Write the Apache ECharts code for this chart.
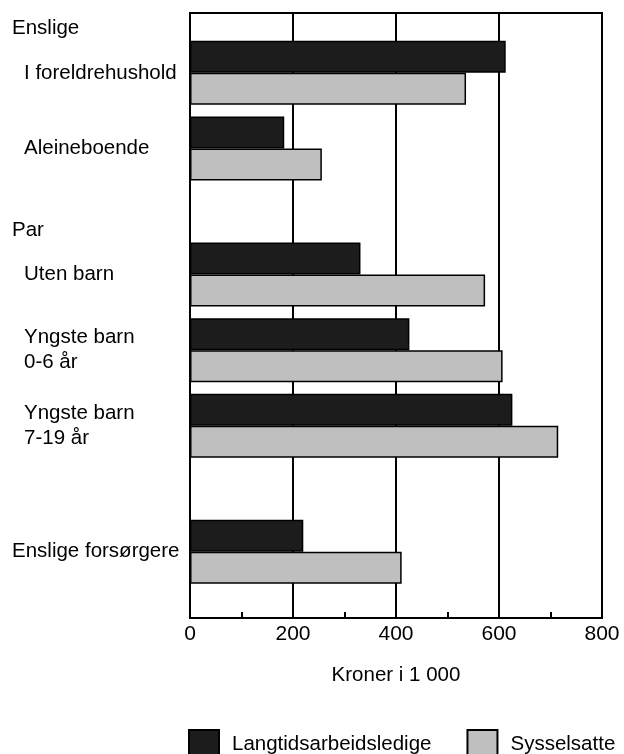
<!DOCTYPE html>
<html>
<head>
<meta charset="utf-8">
<script src="https://cdn.jsdelivr.net/npm/echarts@6/dist/echarts.min.js"></script>
<style>
  html, body { margin: 0; padding: 0; background: #fff; }
  #chart { width: 624px; height: 754px; }
</style>
</head>
<body>
<div id="chart"></div>
<script>
// data
const groupLabels = ['I foreldrehushold', 'Aleineboende', 'Uten barn', 'Yngste barn\n0-6 år', 'Yngste barn\n7-19 år', 'Enslige forsørgere']
const headerLabels = ['Enslige', 'Par']
const langtidsledige = [613, 183, 331, 426, 626, 220]
const sysselsatte = [536, 256, 573, 607, 715, 411]
const seriesNames = ['Langtidsarbeidsledige', 'Sysselsatte']
const axisName = 'Kroner i 1 000'

// layout: the groups are unevenly spaced, so put them on a fine category grid
const slotCount = 96
const groupSlots = [9, 21, 41, 53, 65, 85]
const headerSlots = [2, 34]
const indented = [true, true, true, true, true, false]

const font = '"Liberation Sans", Arial, Helvetica, sans-serif'
const fontSize = 20.5

const slots = []
const labelMap = {}
for (let i = 0; i < slotCount; i++) slots.push('s' + i)
headerSlots.forEach((s, i) => { labelMap[slots[s]] = '{h|' + headerLabels[i] + '}' })
groupSlots.forEach((s, i) => {
  const style = indented[i] ? 's' : 'h'
  labelMap[slots[s]] = groupLabels[i].split('\n').map(t => '{' + style + '|' + t + '}').join('\n')
})

const toSlots = values => {
  const arr = new Array(slotCount).fill(null)
  groupSlots.forEach((s, i) => { arr[s] = values[i] })
  return arr
}

const chart = echarts.init(document.getElementById('chart'))

const option = {
  animation: false,
  textStyle: { fontFamily: font, color: '#000' },
  grid: {
    left: 190,
    top: 13,
    width: 412,
    height: 605,
    show: true,
    borderColor: '#000',
    borderWidth: 2,
    backgroundColor: 'transparent'
  },
  legend: {
    left: 188,
    top: 729,
    padding: 0,
    icon: 'rect',
    itemWidth: 30,
    itemHeight: 28,
    itemGap: 35,
    textStyle: { fontFamily: font, fontSize: fontSize, color: '#000', padding: [0, 0, 0, 8] },
    data: seriesNames
  },
  xAxis: {
    type: 'value',
    min: 0,
    max: 800,
    interval: 200,
    name: axisName,
    nameLocation: 'middle',
    nameGap: 47,
    nameTextStyle: { fontFamily: font, fontSize: fontSize, color: '#000' },
    axisLine: { show: true, lineStyle: { color: '#000', width: 2 } },
    axisTick: { show: false, inside: true },
    minorTick: { show: true, splitNumber: 2, length: 6, lineStyle: { color: '#000', width: 2 } },
    axisLabel: { fontFamily: font, fontSize: 21, color: '#000', margin: 6 },
    splitLine: { show: true, lineStyle: { color: '#000', width: 2 } }
  },
  yAxis: {
    type: 'category',
    inverse: true,
    data: slots,
    axisLine: { show: true, lineStyle: { color: '#000', width: 2 } },
    axisTick: { show: false },
    splitLine: { show: false },
    axisLabel: {
      interval: 0,
      align: 'left',
      margin: 178,
      formatter: v => labelMap[v] || '',
      rich: {
        h: { fontFamily: font, fontSize: fontSize, color: '#000', lineHeight: 25 },
        s: { fontFamily: font, fontSize: fontSize, color: '#000', lineHeight: 25, padding: [0, 0, 0, 12] }
      }
    }
  },
  series: [
    {
      name: seriesNames[0],
      type: 'bar',
      barWidth: 32,
      barGap: '0%',
      itemStyle: { color: '#1c1c1c', borderColor: '#000', borderWidth: 1.5 },
      data: toSlots(langtidsledige)
    },
    {
      name: seriesNames[1],
      type: 'bar',
      barWidth: 32,
      barGap: '0%',
      itemStyle: { color: '#bfbfbf', borderColor: '#000', borderWidth: 1.5 },
      data: toSlots(sysselsatte)
    }
  ]
}

chart.setOption(option)
</script>
</body>
</html>
